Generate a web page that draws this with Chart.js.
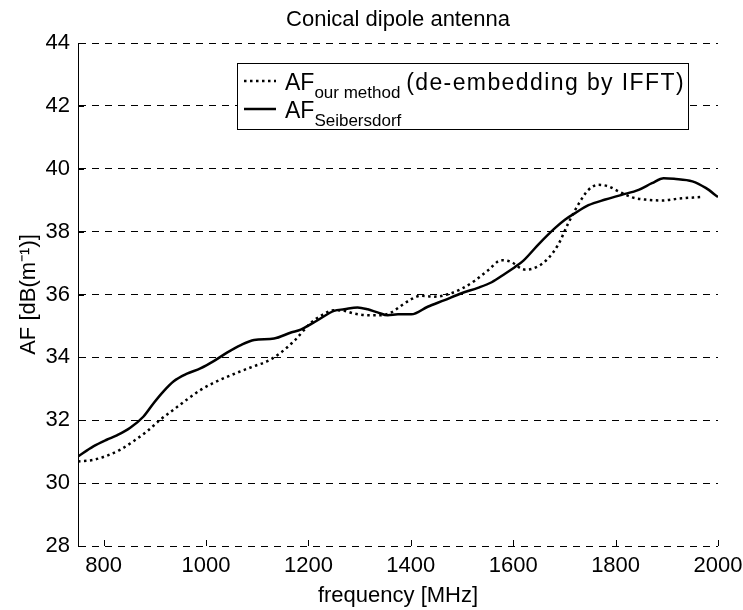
<!DOCTYPE html>
<html><head><meta charset="utf-8">
<script src="https://cdn.jsdelivr.net/npm/chart.js@4/dist/chart.umd.min.js"></script>
<style>html,body{margin:0;padding:0;background:#fff}#wrap{width:743px;height:610px;position:relative}</style>
</head><body><div id="wrap"><canvas id="c" width="743" height="610"></canvas></div>
<script>
const chartTitle = 'Conical dipole antenna';
const xTitle = 'frequency [MHz]';
const yTitle = 'AF [dB(m\u207B\u00B9)]';
const xTicks = [800, 1000, 1200, 1400, 1600, 1800, 2000];
const yTicks = [28, 30, 32, 34, 36, 38, 40, 42, 44];

const freqSeibersdorf = [750,780,806,826,852,878,898,917,937,963,989,1015,1041,1068,1094,1133,1166,1185,1205,1218,1250,1270,1296,1316,1335,1355,1375,1401,1433,1466,1499,1531,1558,1584,1603,1620,1649,1682,1701,1721,1747,1780,1812,1845,1871,1894,1914,1950,1976,2000];
const afSeibersdorf   = [30.85,31.17,31.38,31.52,31.76,32.12,32.55,32.92,33.24,33.48,33.65,33.88,34.15,34.39,34.55,34.6,34.79,34.88,35.06,35.18,35.48,35.53,35.59,35.53,35.43,35.34,35.37,35.37,35.61,35.82,36.04,36.21,36.39,36.66,36.87,37.08,37.59,38.12,38.38,38.59,38.84,39.02,39.17,39.33,39.54,39.7,39.68,39.6,39.39,39.1];

const freqOurMethod = [750,780,806,832,858,885,911,937,963,989,1015,1041,1068,1094,1120,1146,1172,1205,1224,1250,1270,1290,1316,1342,1362,1381,1401,1420,1446,1473,1499,1525,1551,1577,1597,1616,1626,1649,1669,1688,1708,1727,1747,1767,1786,1806,1832,1858,1891,1923,1966];
const afOurMethod   = [30.69,30.74,30.87,31.06,31.33,31.65,32.02,32.34,32.66,32.96,33.19,33.38,33.56,33.72,33.88,34.15,34.52,35.1,35.32,35.5,35.48,35.39,35.34,35.34,35.43,35.64,35.85,35.96,35.93,36.01,36.18,36.44,36.77,37.09,37.03,36.82,36.79,36.9,37.16,37.59,38.28,38.86,39.33,39.49,39.44,39.28,39.09,39.02,38.99,39.05,39.1];

const legendMain = ['AF', 'AF'];
const legendSub = ['our method', 'Seibersdorf'];
const legendTail = [' (de-embedding by IFFT)', ''];

const FONT = "'Liberation Sans', Arial, Helvetica, sans-serif";
const FS = 22;

const toPts = (xs, ys) => xs.map((x, i) => ({x, y: ys[i]}));

const inwardTicks = {
  id: 'inwardTicks',
  afterDatasetsDraw(chart) {
    const {ctx, chartArea: a, scales: {x, y}} = chart;
    ctx.save();
    ctx.strokeStyle = '#000';
    ctx.lineWidth = 1;
    ctx.beginPath();
    xTicks.forEach(v => { const px = Math.round(x.getPixelForValue(v)) + 0.5; ctx.moveTo(px, a.bottom); ctx.lineTo(px, a.bottom - 6); });
    yTicks.forEach(v => { const py = Math.round(y.getPixelForValue(v)) + 0.5; ctx.moveTo(a.left, py); ctx.lineTo(a.left + 6, py); });
    ctx.stroke();
    ctx.restore();
  }
};

const titlePlugin = {
  id: 'centeredTitle',
  afterDraw(chart) {
    const {ctx, chartArea: a} = chart;
    ctx.save();
    ctx.fillStyle = '#000';
    ctx.font = FS + 'px ' + FONT;
    ctx.textAlign = 'center';
    ctx.textBaseline = 'middle';
    ctx.fillText(chartTitle, (a.left + a.right) / 2, 20);
    ctx.restore();
  }
};

const customLegend = {
  id: 'customLegend',
  afterDraw(chart) {
    const ctx = chart.ctx;
    const bx = 237, by = 63, bw = 451, bh = 66;
    ctx.save();
    ctx.fillStyle = '#fff';
    ctx.fillRect(bx, by, bw, bh);
    ctx.strokeStyle = '#000';
    ctx.lineWidth = 1;
    ctx.strokeRect(bx + 0.5, by + 0.5, bw, bh);
    const rows = [by + 18, by + 46];
    const ds = chart.data.datasets;
    rows.forEach((ry, i) => {
      ctx.beginPath();
      ctx.strokeStyle = '#000';
      ctx.lineWidth = ds[i].borderWidth;
      ctx.setLineDash(ds[i].borderDash || []);
      ctx.moveTo(bx + 7, ry);
      ctx.lineTo(bx + 39, ry);
      ctx.stroke();
      ctx.setLineDash([]);
      ctx.fillStyle = '#000';
      ctx.textBaseline = 'alphabetic';
      ctx.font = '23px ' + FONT;
      let tx = bx + 48;
      ctx.fillText(legendMain[i], tx, ry + 9);
      tx += ctx.measureText(legendMain[i]).width;
      ctx.font = '17px ' + FONT;
      ctx.fillText(legendSub[i], tx, ry + 17);
      tx += ctx.measureText(legendSub[i]).width - 2;
      ctx.font = '23px ' + FONT;
      ctx.letterSpacing = '1.4px';
      ctx.fillText(legendTail[i], tx, ry + 9);
      ctx.letterSpacing = '0px';
    });
    ctx.restore();
  }
};

new Chart(document.getElementById('c'), {
  type: 'line',
  data: {
    datasets: [
      {label: 'AF our method (de-embedding by IFFT)', data: toPts(freqOurMethod, afOurMethod), borderColor: '#000', borderWidth: 2.5, borderDash: [2.5, 3.5], pointRadius: 0, cubicInterpolationMode: 'monotone', fill: false},
      {label: 'AF Seibersdorf', data: toPts(freqSeibersdorf, afSeibersdorf), borderColor: '#000', borderWidth: 2.5, pointRadius: 0, cubicInterpolationMode: 'monotone', fill: false}
    ]
  },
  options: {
    responsive: false,
    animation: false,
    devicePixelRatio: 1,
    layout: {padding: {top: 43, right: 25, bottom: 0, left: 0}},
    plugins: {
      legend: {display: false},
      tooltip: {enabled: false},
      title: {display: false}
    },
    scales: {
      x: {
        type: 'linear', min: 750, max: 2000,
        afterBuildTicks: s => { s.ticks = xTicks.map(v => ({value: v})); },
        afterFit: s => { s.height = 64; s.paddingRight = 0; s.paddingLeft = 0; },
        grid: {display: false, drawTicks: false},
        border: {display: false},
        ticks: {color: '#000', font: {family: FONT, size: FS}, padding: 7, maxRotation: 0, autoSkip: false, callback: v => String(v)},
        title: {display: true, text: xTitle, color: '#000', font: {family: FONT, size: FS}, padding: {top: 0, bottom: 1}}
      },
      y: {
        min: 28, max: 44,
        afterBuildTicks: s => { s.ticks = yTicks.map(v => ({value: v})); },
        afterFit: s => { s.width = 78; s.paddingTop = 0; s.paddingBottom = 0; },
        grid: {color: '#000', lineWidth: 1, drawTicks: false},
        border: {display: true, color: '#000', width: 1, dash: [7, 6]},
        ticks: {color: '#000', font: {family: FONT, size: FS}, padding: 8, callback: v => String(v)},
        title: {display: true, text: yTitle, color: '#000', font: {family: FONT, size: FS}, padding: {top: 16, bottom: 0}}
      }
    }
  },
  plugins: [inwardTicks, titlePlugin, customLegend]
});
</script></body></html>
